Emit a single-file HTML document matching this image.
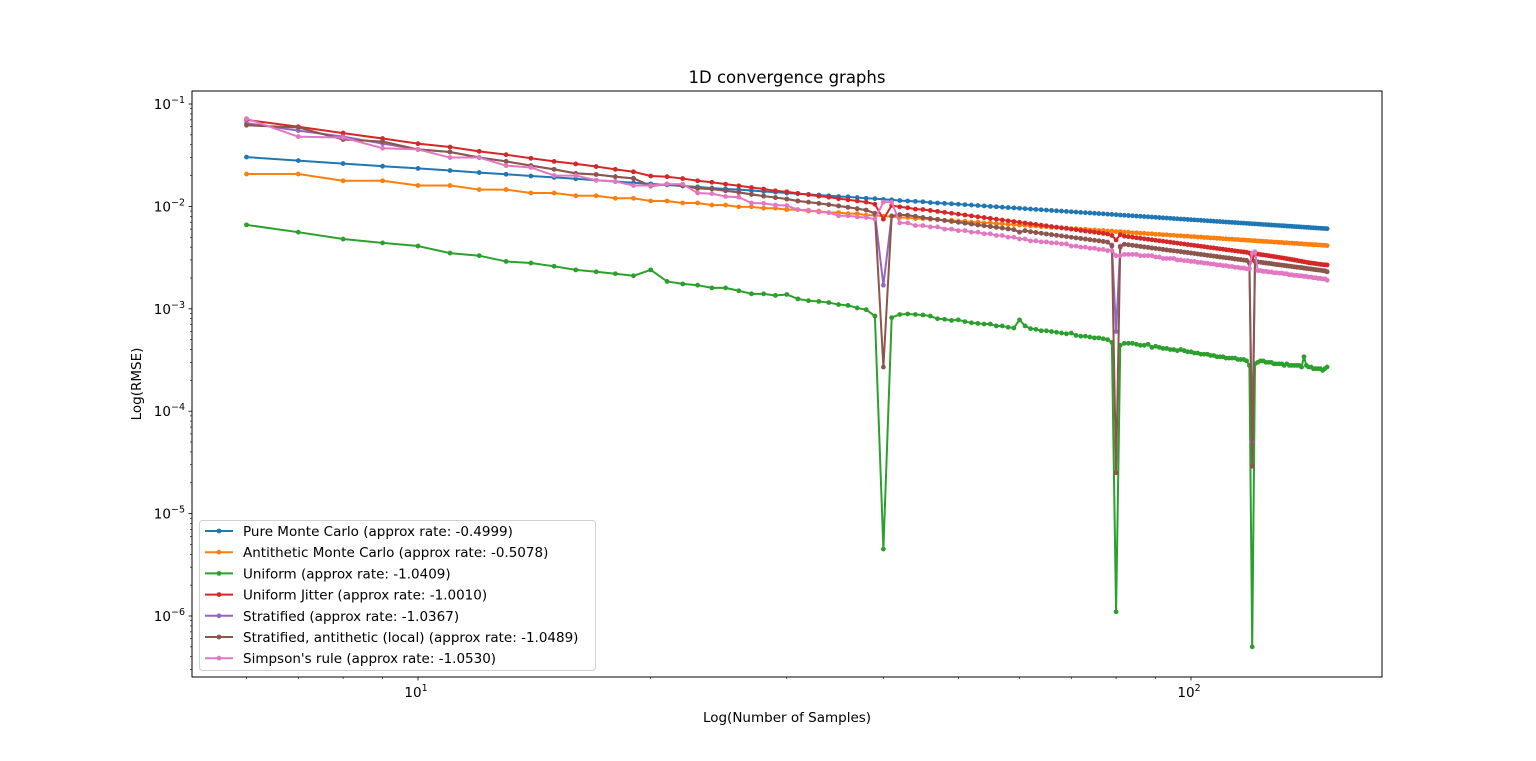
<!DOCTYPE html>
<html><head><meta charset="utf-8"><style>
html,body{margin:0;padding:0;background:#fff;}
svg{display:block;font-family:"DejaVu Sans","Liberation Sans",sans-serif;}
</style></head><body>
<svg id="chart" width="1536" height="761" viewBox="0 0 1536 761">
<rect x="0" y="0" width="1536" height="761" fill="#fff"/>
<text x="787" y="83" text-anchor="middle" font-size="16.5">1D convergence graphs</text>
<g id="grid-ticks"></g>
<g id="series" clip-path="url(#clip)"></g>
<defs><clipPath id="clip"><rect x="192" y="91" width="1190" height="586"/></clipPath></defs>
<rect x="192" y="91" width="1190" height="586" fill="none" stroke="#000" stroke-width="1"/>
<text x="787" y="722" text-anchor="middle" font-size="13.5">Log(Number of Samples)</text>
<text x="0" y="0" transform="translate(141,384) rotate(-90)" text-anchor="middle" font-size="13.5">Log(RMSE)</text>
<g id="legend"></g>
</svg>
<script>
const seriesNames = ["Pure Monte Carlo (approx rate: -0.4999)","Antithetic Monte Carlo (approx rate: -0.5078)","Uniform (approx rate: -1.0409)","Uniform Jitter (approx rate: -1.0010)","Stratified (approx rate: -1.0367)","Stratified, antithetic (local) (approx rate: -1.0489)","Simpson's rule (approx rate: -1.0530)"];
const seriesColors = ["#1f77b4","#ff7f0e","#2ca02c","#d62728","#9467bd","#8c564b","#e377c2"];
const nStart = 6, nEnd = 150;
const xTickValues = [10, 100];
const xTickLabels = ["1", "2"];
const yTickExps = [-1,-2,-3,-4,-5,-6];
const pureMC = [.0303,.0280,.0262,.0247,.0235,.0224,.0214,.0206,.0198,.0192,.0186,.0180,.0175,.0170,.0166,.0162,.0158,.0155,.0151,.0148,.0146,.0143,.0140,.0138,.0135,.0133,.0131,.0129,.0127,.0125,.0124,.0122,.0120,.0119,.0117,.0116,.0114,.0113,.0112,.0111,.0109,.0108,.0107,.0106,.0105,.0104,.0103,.0102,.0101,.0100,.00992,.00983,.00974,.00966,.00958,.0095,.00942,.00935,.00928,.0092,.00913,.00906,.009,.00893,.00887,.00881,.00874,.00868,.00863,.00857,.00851,.00846,.0084,.00835,.0083,.00824,.00819,.00814,.0081,.00805,.008,.00796,.00791,.00787,.00782,.00778,.00774,.00769,.00765,.00761,.00757,.00753,.0075,.00746,.00742,.00738,.00735,.00731,.00728,.00724,.00721,.00717,.00714,.00711,.00707,.00704,.00701,.00698,.00695,.00692,.00689,.00686,.00683,.0068,.00677,.00675,.00672,.00669,.00666,.00664,.00661,.00658,.00656,.00653,.00651,.00648,.00646,.00643,.00641,.00639,.00636,.00634,.00632,.00629,.00627,.00625,.00623,.0062,.00618,.00616,.00614,.00612,.0061,.00608,.00606];
const antithetic = [.0207,.0207,.0178,.0178,.016,.016,.0146,.0146,.0135,.0135,.0127,.0127,.012,.012,.0113,.0113,.0108,.0108,.0103,.0103,.0099,.0099,.0096,.0096,.0093,.0093,.009,.009,.0087,.0087,.0085,.0085,.0082,.0082,.008,.008,.0078,.0078,.0076,.0076,.00748,.00748,.00732,.00732,.00717,.00717,.00703,.00703,.0069,.0069,.00678,.00678,.00666,.00666,.00655,.00655,.00644,.00644,.00634,.00634,.00624,.00624,.00615,.00615,.00606,.00606,.00598,.00598,.00589,.00589,.00582,.00582,.00574,.00574,.00567,.00567,.0056,.0056,.00553,.00553,.00547,.00547,.0054,.0054,.00534,.00534,.00529,.00529,.00523,.00523,.00517,.00517,.00512,.00512,.00507,.00507,.00502,.00502,.00497,.00497,.00492,.00492,.00488,.00488,.00483,.00483,.00479,.00479,.00475,.00475,.00471,.00471,.00467,.00467,.00463,.00463,.00459,.00459,.00455,.00455,.00452,.00452,.00448,.00448,.00445,.00445,.00441,.00441,.00438,.00438,.00435,.00435,.00432,.00432,.00428,.00428,.00425,.00425,.00423,.00423,.0042,.0042,.00417,.00417,.00414];
const uniform = [.0066,.0056,.0048,.0044,.0041,.0035,.0033,.0029,.0028,.0026,.0024,.0023,.0022,.0021,.0024,.00185,.00175,.0017,.0016,.0016,.0015,.0014,.0014,.00135,.00138,.00125,.0012,.00118,.00115,.0011,.00108,.00102,.00098,.00085,4.5e-6,.00082,.00088,.00089,.00088,.00087,.00085,.0008,.00079,.00077,.00078,.00075,.00073,.00072,.00071,.00071,.00068,.00068,.00066,.00065,.00078,.00068,.00064,.00063,.00061,.00061,.0006,.00059,.00058,.00057,.00058,.00055,.00054,.00054,.00053,.00052,.00052,.00051,.0005,.00047,1.1e-6,.00044,.00046,.00046,.00046,.00045,.00044,.00044,.00045,.00042,.00043,.00042,.00041,.00041,.0004,.0004,.00039,.0004,.00039,.00038,.00038,.00037,.00037,.00036,.00036,.00036,.00035,.00035,.00034,.00034,.00034,.00033,.00033,.00033,.00033,.00032,.00032,.00032,.00031,.00028,5e-7,.00029,.0003,.00031,.00031,.0003,.0003,.0003,.00029,.00029,.00029,.00029,.00028,.00029,.00028,.00028,.00028,.00028,.00028,.00027,.00034,.00028,.00027,.00027,.00026,.00026,.00026,.00026,.00025,.00026,.00027];
const jitter = [.070,.060,.052,.046,.041,.038,.0345,.032,.0295,.0275,.026,.0245,.023,.0218,.0198,.0195,.0187,.0178,.0172,.0165,.0159,.0153,.0148,.0142,.0139,.0134,.013,.0126,.0123,.0119,.0116,.0113,.0110,.0105,.0075,.0102,.0099,.0097,.0094,.00933,.00913,.00894,.00875,.00857,.0084,.00824,.00808,.00792,.00778,.00764,.0075,.00737,.00724,.00712,.007,.00689,.00677,.00667,.00656,.00646,.00636,.00627,.00618,.00609,.006,.00592,.00583,.00575,.00568,.0056,.00553,.00545,.00538,.0052,.0047,.0053,.00512,.00506,.005,.00494,.00488,.00483,.00477,.00472,.00467,.00462,.00457,.00452,.00447,.00442,.00438,.00433,.00429,.00424,.0042,.00416,.00412,.00408,.00404,.004,.00396,.00393,.00389,.00385,.00382,.00378,.00375,.00372,.00368,.00365,.00362,.00359,.00356,.0035,.0030,.0035,.00342,.00339,.00336,.00333,.0033,.00327,.00324,.00321,.00318,.00315,.00312,.00309,.00306,.00303,.003,.00297,.00294,.00291,.00288,.00285,.00282,.0028,.00278,.00276,.00274,.00272,.0027,.00269,.00268];
const stratified = [.065,.055,.048,.041,.036,.034,.030,.0275,.025,.023,.021,.0205,.0195,.0188,.0158,.0165,.016,.015,.0148,.0142,.0137,.0131,.0126,.0122,.0118,.0113,.011,.0107,.0104,.0101,.0098,.0095,.0092,.0086,.0017,.0081,.0083,.0082,.008,.00778,.00761,.00745,.00729,.00714,.007,.00686,.00673,.0066,.00648,.00636,.00625,.00614,.00603,.00593,.0056,.0058,.00565,.00556,.00547,.00538,.0053,.00522,.00515,.00507,.005,.00493,.00486,.0048,.00473,.00467,.00461,.00455,.00449,.0042,.0006,.0041,.00427,.00422,.00417,.00412,.00407,.00402,.00398,.00393,.00389,.00385,.0038,.00376,.00372,.00368,.00365,.00361,.00357,.00354,.0035,.00347,.00343,.0034,.00337,.00333,.0033,.00327,.00324,.00321,.00318,.00315,.00313,.0031,.00307,.00304,.00302,.00299,.00297,.0028,.00005,.0029,.00287,.00285,.00282,.0028,.00278,.00276,.00273,.00271,.00269,.00267,.00265,.00263,.00261,.00259,.00257,.00255,.00254,.00252,.0025,.00248,.00246,.00245,.00243,.00241,.0024,.00238,.00236,.00235,.0023];
const stratAnti = [.062,.059,.045,.043,.036,.034,.030,.0275,.025,.023,.021,.0205,.0195,.0188,.0158,.0165,.016,.015,.0148,.0142,.0137,.0131,.0126,.0122,.0118,.0113,.011,.0107,.0104,.0101,.0098,.0095,.0092,.0085,.00027,.0080,.0083,.0082,.008,.00778,.00761,.00745,.00729,.00714,.007,.00686,.00673,.0066,.00648,.00636,.00625,.00614,.00603,.00593,.0056,.0058,.00565,.00556,.00547,.00538,.0053,.00522,.00515,.00507,.005,.00493,.00486,.0048,.00473,.00467,.00461,.00455,.00449,.0041,.000025,.0040,.00427,.00422,.00417,.00412,.00407,.00402,.00398,.00393,.00389,.00385,.0038,.00376,.00372,.00368,.00365,.00361,.00357,.00354,.0035,.00347,.00343,.0034,.00337,.00333,.0033,.00327,.00324,.00321,.00318,.00315,.00313,.0031,.00307,.00304,.00302,.00299,.00297,.0028,.000029,.0029,.00287,.00285,.00282,.0028,.00278,.00276,.00273,.00271,.00269,.00267,.00265,.00263,.00261,.00259,.00257,.00255,.00254,.00252,.0025,.00248,.00246,.00245,.00243,.00241,.0024,.00238,.00236,.00235,.0023];
const simpson = [.072,.048,.047,.037,.036,.030,.030,.025,.024,.020,.020,.018,.0175,.016,.016,.0165,.0165,.0135,.0133,.0125,.0123,.0108,.0107,.0103,.0102,.0093,.0092,.0088,.0087,.0081,.0081,.0079,.0078,.0075,.0110,.0110,.0069,.0069,.0065,.0065,.0063,.0063,.0060,.0060,.0058,.0058,.0056,.0056,.0054,.0054,.0052,.0052,.0050,.0050,.0048,.0048,.0046,.0046,.0045,.0045,.0044,.0044,.0043,.0043,.0041,.0041,.0040,.0040,.0039,.0039,.0038,.0038,.0037,.0037,.0033,.0033,.0034,.0034,.0034,.0034,.0033,.0033,.0033,.0033,.0032,.0032,.0031,.0031,.0031,.0031,.0030,.0030,.00295,.00295,.0029,.0029,.00284,.00284,.00279,.00279,.00274,.00274,.00268,.00268,.00264,.00264,.00259,.00259,.00254,.00254,.0025,.0025,.00246,.00246,.0035,.0036,.00236,.00236,.00232,.00232,.00229,.00229,.00225,.00225,.00223,.00223,.0022,.0022,.00215,.00215,.00212,.00212,.0021,.0021,.00207,.00207,.00204,.00204,.00201,.00201,.00198,.00198,.00196,.00196,.0019];
const allSeries = [pureMC, antithetic, uniform, jitter, stratified, stratAnti, simpson];

const NS = "http://www.w3.org/2000/svg";
const X0 = 418, XDEC = 773, Y0 = 104, YDEC = 102.4;
function xs(n){ return X0 + XDEC*(Math.log10(n)-1); }
function ys(v){ return Y0 + YDEC*(-1-Math.log10(v)); }
function mk(tag, attrs, parent){ const e=document.createElementNS(NS,tag); for(const k in attrs) e.setAttribute(k, attrs[k]); parent.appendChild(e); return e; }

const tg = document.getElementById('grid-ticks');
for (let d=0; d<=2; d++){
  for (let m=1; m<=9; m++){
    const v = m*Math.pow(10,d); const x = xs(v);
    if (x<192 || x>1382) continue;
    const major = m===1;
    const t = mk('line',{x1:x,x2:x,y1:677,y2:677+(major?3.5:2),stroke:'#000','stroke-width':major?0.8:0.6},tg);
    
    
  }
}
xTickValues.forEach((v,i)=>{
  const t = mk('text',{x:xs(v)-2,y:697,'text-anchor':'middle','font-size':'13.5'},tg);
  
  
  t.innerHTML = '10<tspan dy="-6" font-size="9.5">'+xTickLabels[i]+'</tspan>';
});
for (let e=-7; e<=-1; e++){
  for (let m=1; m<=9; m++){
    const v = m*Math.pow(10,e); const y = ys(v);
    if (y<91 || y>677) continue;
    const major = m===1;
    const t = mk('line',{x1:192-(major?3.5:2),x2:192,y1:y,y2:y,stroke:'#000','stroke-width':major?0.8:0.6},tg);
    
    
  }
}
yTickExps.forEach(e=>{
  const t = mk('text',{x:185,y:ys(Math.pow(10,e))+5,'text-anchor':'end','font-size':'13.5'},tg);
  
  
  t.innerHTML = '10<tspan dy="-6" font-size="9.5">\u2212'+(-e)+'</tspan>';
});

const sg = document.getElementById('series');
allSeries.forEach((vals,si)=>{
  const g = mk('g',{},sg);
  
  
  const pts = vals.map((v,i)=>xs(nStart+i).toFixed(2)+','+ys(v).toFixed(2)).join(' ');
  const pl = mk('polyline',{points:pts,fill:'none',stroke:seriesColors[si],'stroke-width':2,'stroke-linejoin':'round'},g);
  
  
  vals.forEach((v,i)=>{
    const c = mk('circle',{cx:xs(nStart+i),cy:ys(v),r:2.4,fill:seriesColors[si]},g);
    
    
  });
});

const lg = document.getElementById('legend');
const box = mk('rect',{x:199.5,y:520.5,width:396,height:150,rx:3,fill:'#fff','fill-opacity':0.85,stroke:'#d0d0d0'},lg);


seriesNames.forEach((nm,i)=>{
  const y = 531 + i*21.2;
  const g = mk('g',{},lg);
  
  
  mk('line',{x1:205,x2:233,y1:y,y2:y,stroke:seriesColors[i],'stroke-width':2},g);
  mk('circle',{cx:219,cy:y,r:2.4,fill:seriesColors[i]},g);
  const t = mk('text',{x:243,y:y+5,'font-size':'13.5'},g);
  t.textContent = nm;
});
</script>
</body></html>
